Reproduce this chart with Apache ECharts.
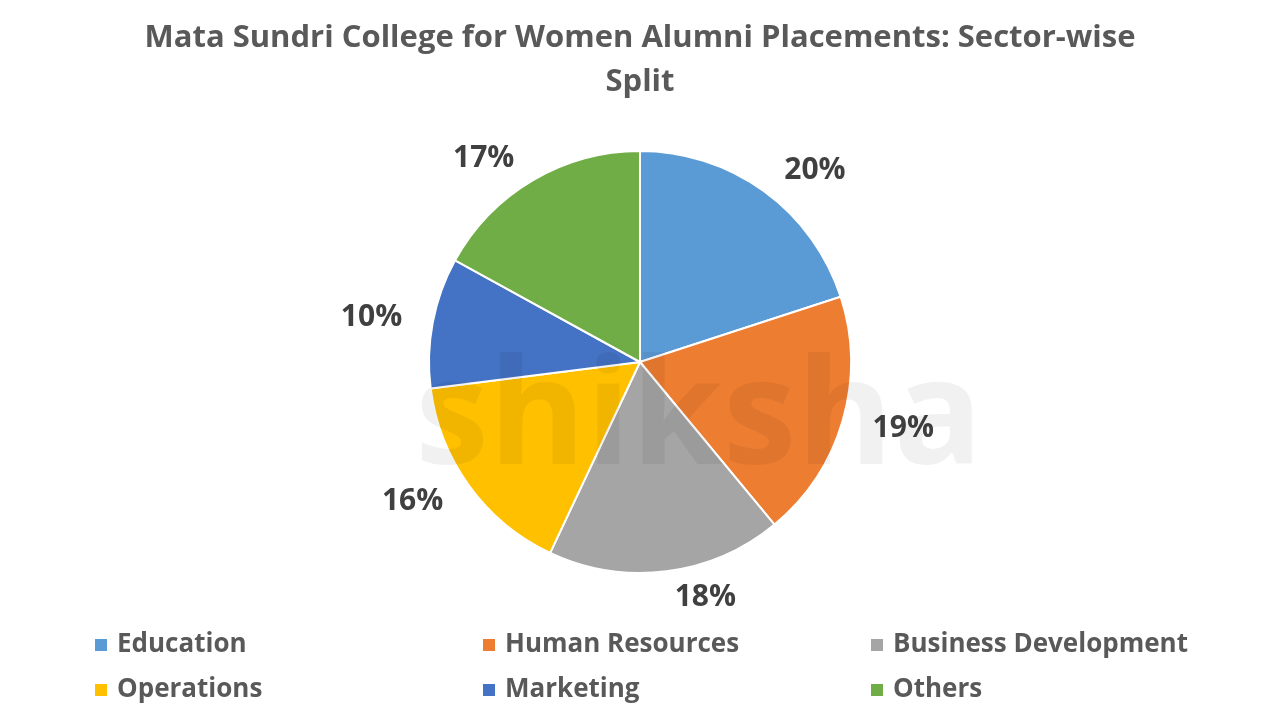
<!DOCTYPE html>
<html>
<head>
<meta charset="utf-8">
<script src="https://cdn.jsdelivr.net/npm/echarts@6/dist/echarts.min.js"></script>
<style>html,body{margin:0;padding:0;background:#fff}#c{width:1280px;height:720px}</style>
</head>
<body>
<div id="c"></div>
<script>
const titleText = 'Mata Sundri College for Women Alumni Placements: Sector-wise\nSplit';
const categories = ['Education', 'Human Resources', 'Business Development', 'Operations', 'Marketing', 'Others'];
const values = [20, 19, 18, 16, 10, 17];
const colors = ['#5B9BD5', '#ED7D31', '#A5A5A5', '#FFC000', '#4472C4', '#70AD47'];

const font = '"Open Sans", "Noto Sans", sans-serif';
const legendLeft = [88, 476, 864];
const legendTop = [627, 672];
const legends = categories.map((c, i) => ({
  data: [c],
  left: legendLeft[i % 3],
  top: legendTop[Math.floor(i / 3)],
  itemWidth: 14, itemHeight: 14, icon: 'rect',
  textStyle: { fontFamily: font, fontSize: 26, fontWeight: 'bold', color: '#595959', padding: [0, 0, 0, 4] }
}));

const chart = echarts.init(document.getElementById('c'));
chart.setOption({
  animation: false,
  color: colors,
  title: {
    text: titleText,
    left: 'center',
    top: 11,
    textStyle: { fontFamily: font, fontSize: 31, fontWeight: 'bold', color: '#595959', lineHeight: 44 }
  },
  legend: legends,
  series: [{
    type: 'pie',
    center: [640, 362],
    radius: 211,
    startAngle: 90,
    clockwise: true,
    avoidLabelOverlap: false,
    itemStyle: { borderColor: '#fff', borderWidth: 2 },
    label: {
      show: true,
      position: 'outside',
      formatter: p => p.value + '%',
      fontFamily: font, fontSize: 30, fontWeight: 'bold', color: '#404040'
    },
    labelLine: { show: false, length: 26, length2: 0 },
    data: categories.map((c, i) => ({ name: c, value: values[i] }))
  }],
  graphic: [{
    type: 'text',
    left: 415, top: 348,
    z: 100,
    silent: true,
    style: { text: 'shiksha', font: 'bold 148px "Open Sans", sans-serif', fill: 'rgba(0,0,0,0.055)' }
  }]
});
</script>
</body>
</html>
